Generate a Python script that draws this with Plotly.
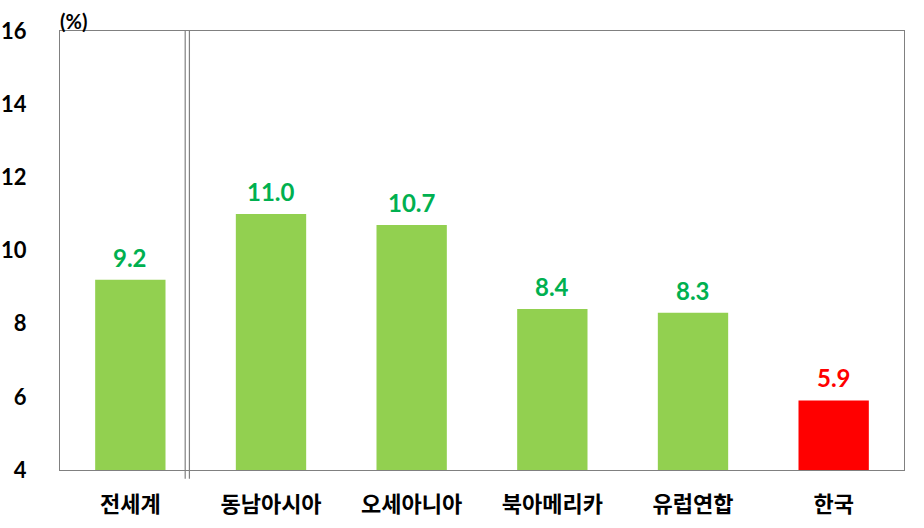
import plotly.graph_objects as go

categories = ["전세계", "동남아시아", "오세아니아", "북아메리카", "유럽연합", "한국"]
values = [9.2, 11.0, 10.7, 8.4, 8.3, 5.9]
bar_colors = ["#92D050", "#92D050", "#92D050", "#92D050", "#92D050", "#FF0000"]
label_colors = ["#00B050", "#00B050", "#00B050", "#00B050", "#00B050", "#FF0000"]
y_ticks = [4, 6, 8, 10, 12, 14, 16]

FONT = "Lato, 'Noto Sans CJK KR', sans-serif"
KFONT = "'Noto Sans CJK KR', Lato, sans-serif"

fig = go.Figure()
fig.add_trace(go.Bar(
    x=categories, y=values, base=0,
    marker=dict(color=bar_colors, line=dict(width=0)),
    width=0.5, hoverinfo="skip",
))

for c, v, col in zip(categories, values, label_colors):
    fig.add_annotation(x=c, y=v, text=f"<b>{v:.1f}</b>", showarrow=False,
                       yanchor="bottom", yshift=6,
                       font=dict(family=FONT, size=24, color=col))

# separator double line
for xv in [0.39, 0.42]:
    fig.add_shape(type="line", xref="x", yref="paper", x0=xv, x1=xv, y0=-0.02, y1=1,
                  line=dict(color="#808080", width=1.2))

fig.add_annotation(xref="paper", yref="paper", x=0.0, y=1.0, xanchor="left", yanchor="bottom",
                   text="<b>(%)</b>", showarrow=False, yshift=-4, xshift=-2,
                   font=dict(family=FONT, size=20, color="black"))

fig.update_layout(
    width=924, height=528,
    margin=dict(l=60, r=20, t=31, b=58, autoexpand=False),
    paper_bgcolor="white", plot_bgcolor="white",
    showlegend=False,
    bargap=0.5,
)
fig.update_xaxes(
    type="category", range=[-0.5, 5.5], automargin=False,
    showline=True, linecolor="#808080", linewidth=1.2, mirror=True,
    showgrid=False, ticks="",
    tickfont=dict(family=KFONT, size=22, color="black", weight="bold"),
    ticklabelstandoff=14,
)
fig.update_yaxes(
    range=[4, 16], tickvals=y_ticks, automargin=False,
    showline=True, linecolor="#808080", linewidth=1.2, mirror=True,
    showgrid=False, zeroline=False, ticks="",
    tickfont=dict(family=FONT, size=22, color="black", weight="bold"),
    ticklabelstandoff=28,
)

fig.write_html("out.html")
